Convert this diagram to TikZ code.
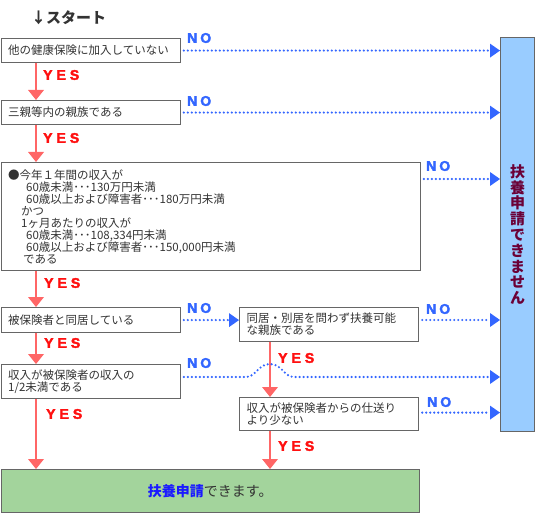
\documentclass[tikz,border=0pt]{standalone}
\usepackage{fontspec}
\setmainfont{Noto Sans CJK JP}
\newfontfamily\latfont[FakeBold=2.5]{Liberation Sans Bold}
\usetikzlibrary{arrows.meta,calc}
\definecolor{boxline}{HTML}{666666}
\definecolor{txt}{HTML}{333333}
\definecolor{yesred}{HTML}{FF1010}
\definecolor{arrred}{HTML}{FF6666}
\definecolor{noblue}{HTML}{3366FF}
\definecolor{panelblue}{HTML}{99CCFF}
\definecolor{okgreen}{HTML}{A3D49C}
\definecolor{ngtext}{HTML}{6B0036}
\definecolor{okblue}{HTML}{1A1AFF}
\newcommand\yeslbl{Y\hspace{4pt}E\hspace{4pt}S}
\newcommand\nolbl{N\hspace{3pt}O}
\begin{document}
\begin{tikzpicture}[x=1pt,y=-1pt,
  qbox/.style={draw=boxline, line width=1.2pt, fill=white, anchor=north west,
    inner xsep=7pt, inner ysep=0pt, align=left, text=txt,
    font=\fontsize{11.5}{12}\selectfont},
  yeslabel/.style={anchor=west, text=yesred, inner sep=0pt,
    font=\latfont\fontsize{14}{14}\selectfont},
  nolabel/.style={anchor=west, text=noblue, inner sep=0pt,
    font=\latfont\fontsize{14}{14}\selectfont},
  yesarrow/.style={draw=arrred, line width=2pt,
    -{Triangle[length=10pt,width=16pt,line width=0pt]}},
  noarrow/.style={draw=noblue, line width=2.4pt, line cap=round,
    dash pattern=on 0pt off 4pt, shorten <=3pt,
    -{Triangle[length=10pt,width=14pt,line width=0pt]}},
]
\path[use as bounding box] (0,0) rectangle (535,513);

\coordinate (colA) at (36,0);
\coordinate (colB) at (270,0);

\node[anchor=west, inner sep=0pt, text=txt, font=\bfseries\fontsize{15}{15}\selectfont] (start) at (31,18) {↓スタート};

\node[qbox, minimum height=24pt, text width=165pt] (b1) at (0.6,38) {他の健康保険に加入していない};
\node[qbox, minimum height=24pt, text width=165pt] (b2) at (0.6,100) {三親等内の親族である};
\node[qbox, minimum height=108pt, text width=405pt] (b3) at (0.6,162) {%
●今年１年間の収入が\\
\hspace*{18pt}60歳未満･･･130万円未満\\
\hspace*{18pt}60歳以上および障害者･･･180万円未満\\
\hspace*{13pt}かつ\\
\hspace*{13pt}1ヶ月あたりの収入が\\
\hspace*{18pt}60歳未満･･･108,334円未満\\
\hspace*{18pt}60歳以上および障害者･･･150,000円未満\\
\hspace*{15pt}である};
\node[qbox, minimum height=25pt, text width=165pt] (b4) at (0.6,307) {被保険者と同居している};
\node[qbox, minimum height=34pt, text width=165pt] (b5) at (239,307) {同居・別居を問わず扶養可能\\な親族である};
\node[qbox, minimum height=34pt, text width=165pt] (b6) at (0.6,364) {収入が被保険者の収入の\\1/2未満である};
\node[qbox, minimum height=33pt, text width=165pt] (b7) at (239,397) {収入が被保険者からの仕送り\\より少ない};

\node[draw=boxline, fill=okgreen, line width=1.2pt, anchor=north west,
  minimum width=418pt, minimum height=43pt, inner sep=0pt,
  font=\fontsize{14}{14}\selectfont] (ok) at (0.6,469)
  {\textcolor{okblue}{\bfseries 扶養申請}\textcolor{txt}{できます。}};

\node[draw=boxline, fill=panelblue, line width=1.2pt, anchor=north west,
  minimum width=34pt, minimum height=394pt, inner sep=0pt, align=center,
  text=ngtext, font=\bfseries\fontsize{15}{15.8}\selectfont] (ng) at (500,37)
  {扶\\養\\申\\請\\で\\き\\ま\\せ\\ん};

% YES arrows
\draw[yesarrow] (b1.south -| colA) -- (b2.north -| colA);
\draw[yesarrow] (b2.south -| colA) -- (b3.north -| colA);
\draw[yesarrow] (b3.south -| colA) -- (b4.north -| colA);
\draw[yesarrow] (b4.south -| colA) -- (b6.north -| colA);
\draw[yesarrow] (b6.south -| colA) -- (ok.north -| colA);
\draw[yesarrow] (b5.south -| colB) -- (b7.north -| colB);
\draw[yesarrow] (b7.south -| colB) -- (ok.north -| colB);

% NO arrows
\draw[noarrow] (b1.east) -- (ng.west |- b1.east);
\draw[noarrow] (b2.east) -- (ng.west |- b2.east);
\coordinate (b3o) at ($(b3.north east)+(0,17)$);
\draw[noarrow] (b3o) -- (ng.west |- b3o);
\draw[noarrow] (b4.east) -- (b5.west |- b4.east);
\coordinate (b5o) at ($(b5.north east)+(0,13)$);
\draw[noarrow] (b5o) -- (ng.west |- b5o);
\coordinate (b6o) at ($(b6.north east)+(0,13)$);
\coordinate (hump) at ($(colB |- b6o)+(0,-13)$);
\draw[noarrow] (b6o) -- ($(colB |- b6o)+(-24,0)$)
  .. controls ($(colB |- b6o)+(-14,0)$) and ($(hump)+(-12,0)$) .. (hump)
  .. controls ($(hump)+(12,0)$) and ($(colB |- b6o)+(14,0)$) .. ($(colB |- b6o)+(24,0)$)
  -- (ng.west |- b6o);
\coordinate (b7o) at ($(b7.east)+(0,-1.5)$);
\draw[noarrow] (b7o) -- (ng.west |- b7o);

% labels
\node[yeslabel] (y1) at (43,75) {\yeslbl};
\node[yeslabel] (y2) at (43,138) {\yeslbl};
\node[yeslabel] (y3) at (44,283) {\yeslbl};
\node[yeslabel] (y4) at (44,343) {\yeslbl};
\node[yeslabel] (y5) at (46,414) {\yeslbl};
\node[yeslabel] (y6) at (278,358) {\yeslbl};
\node[yeslabel] (y7) at (278,446) {\yeslbl};

\node[nolabel] (n1) at (187,38) {\nolbl};
\node[nolabel] (n2) at (187,101) {\nolbl};
\node[nolabel] (n3) at (426,166) {\nolbl};
\node[nolabel] (n4) at (187,308) {\nolbl};
\node[nolabel] (n5) at (426,309) {\nolbl};
\node[nolabel] (n6) at (187,363) {\nolbl};
\node[nolabel] (n7) at (427,402) {\nolbl};
\end{tikzpicture}
\end{document}
